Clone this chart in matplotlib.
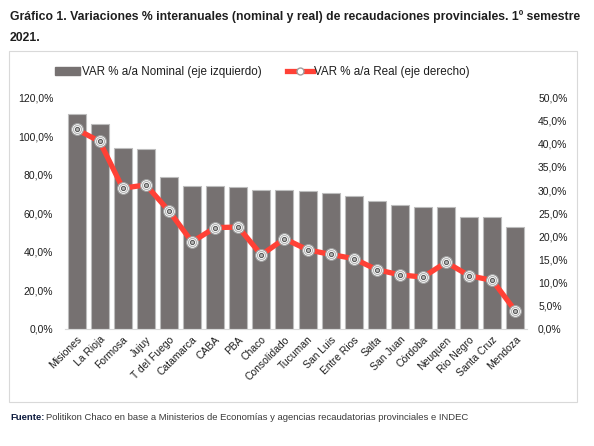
import matplotlib
matplotlib.use('Agg')
import matplotlib.pyplot as plt
from matplotlib.patches import Rectangle
from matplotlib.lines import Line2D
from matplotlib.ticker import FuncFormatter

plt.rcParams['font.family'] = ['Liberation Sans', 'DejaVu Sans']

# datos
provincias = ['Misiones', 'La Rioja', 'Formosa', 'Jujuy', 'T del Fuego', 'Catamarca',
              'CABA', 'PBA', 'Chaco', 'Consolidado', 'Tucuman', 'San Luis', 'Entre Rios',
              'Salta', 'San Juan', 'Córdoba', 'Neuquen', 'Rio Negro', 'Santa Cruz', 'Mendoza']
nominal = [111.2, 106.2, 93.6, 93.1, 78.9, 74.2, 74.1, 73.6, 72.2, 71.9,
           71.4, 70.5, 69.0, 66.3, 64.2, 63.2, 63.0, 58.2, 57.9, 52.7]
real = [43.1, 40.5, 30.4, 31.1, 25.5, 18.8, 21.9, 22.0, 16.0, 19.5,
        17.1, 16.1, 15.2, 12.8, 11.7, 11.2, 14.4, 11.5, 10.5, 3.9]
ticks_izq = [0, 20, 40, 60, 80, 100, 120]
ticks_der = [0, 5, 10, 15, 20, 25, 30, 35, 40, 45, 50]

gris = '#767171'
rojo = '#ff4136'
txt = '#1e1e1e'

fig = plt.figure(figsize=(5.94, 4.46), dpi=100)
W, H = 594, 446

# marco del gráfico
fig.patches.append(Rectangle((9 / W, 1 - 402 / H), 568 / W, 351 / H, transform=fig.transFigure,
                             fill=False, edgecolor='#d9d9d9', linewidth=0.8))

ax = fig.add_axes([65 / W, 1 - 329 / H, 462 / W, 231.6 / H])
x = range(len(provincias))
ax.bar(x, nominal, width=0.78, color=gris, edgecolor='#bdbdbd', linewidth=0.8, zorder=2)
ax.set_xlim(-0.5, len(provincias) - 0.5)
ax.set_ylim(0, 120)
ax.set_yticks(ticks_izq)
ax.yaxis.set_major_formatter(FuncFormatter(lambda v, p: f'{v:.1f}%'.replace('.', ',')))
ax.set_xticks(list(x))
ax.set_xticklabels(provincias, rotation=45, ha='right', rotation_mode='anchor', fontsize=7.5, color=txt)
ax.tick_params(axis='both', length=0, labelsize=7.5, labelcolor=txt)
ax.tick_params(axis='y', pad=8.5)
ax.tick_params(axis='x', pad=4)
for s in ['top', 'right', 'left']:
    ax.spines[s].set_visible(False)
ax.spines['bottom'].set_color('#d9d9d9')

ax2 = ax.twinx()
ax2.plot(x, real, color=rojo, linewidth=3.8, solid_capstyle='round', zorder=3)
ax2.plot(x, real, linestyle='none', marker='o', markersize=8.5, markerfacecolor='white',
         markeredgecolor='#9e9e9e', markeredgewidth=0.8, zorder=4)
ax2.plot(x, real, linestyle='none', marker='o', markersize=5.8, markerfacecolor='white',
         markeredgecolor='#b5b5b5', markeredgewidth=0.8, zorder=5)
ax2.plot(x, real, linestyle='none', marker='o', markersize=3, markerfacecolor='#b0b0b0',
         markeredgecolor='#555555', markeredgewidth=0.7, zorder=6)
ax2.set_ylim(0, 50)
ax2.set_yticks(ticks_der)
ax2.yaxis.set_major_formatter(FuncFormatter(lambda v, p: f'{v:.1f}%'.replace('.', ',')))
ax2.tick_params(axis='y', length=0, labelsize=7.5, labelcolor=txt, pad=8)
for s in ['top', 'right', 'left', 'bottom']:
    ax2.spines[s].set_visible(False)

# leyenda
h1 = Rectangle((0, 0), 1, 1, color=gris)
h2 = Line2D([0], [0], color=rojo, linewidth=3.8, marker='o', markersize=5,
            markerfacecolor='white', markeredgecolor='#9e9e9e')
fig.legend([h1, h2], ['VAR % a/a Nominal (eje izquierdo)', 'VAR % a/a Real (eje derecho)'],
           loc='center', bbox_to_anchor=(262 / W, 1 - 72 / H), ncol=2, frameon=False,
           fontsize=8.4, handlelength=2.2, handletextpad=0.1, columnspacing=2.2,
           labelcolor=txt)

# título
fig.text(10 / W, 1 - 17 / H, 'Gráfico 1. Variaciones % interanuales (nominal y real) de recaudaciones provinciales. 1º semestre',
         fontsize=8.8, fontweight='bold', color=txt, va='center')
fig.text(10 / W, 1 - 38 / H, '2021.', fontsize=8.8, fontweight='bold', color=txt, va='center')

# fuente
t1 = fig.text(10 / W, 1 - 418 / H, 'Fuente:', fontsize=6.8, fontweight='bold', color='#0d1b3e', va='center')
fig.canvas.draw()
bb = t1.get_window_extent()
fig.text((bb.x1 + 2) / W, 1 - 418 / H,
         'Politikon Chaco en base a Ministerios de Economías y agencias recaudatorias provinciales e INDEC',
         fontsize=6.8, color='#3a3a3a', va='center')

fig.savefig('out.png', dpi=100)
